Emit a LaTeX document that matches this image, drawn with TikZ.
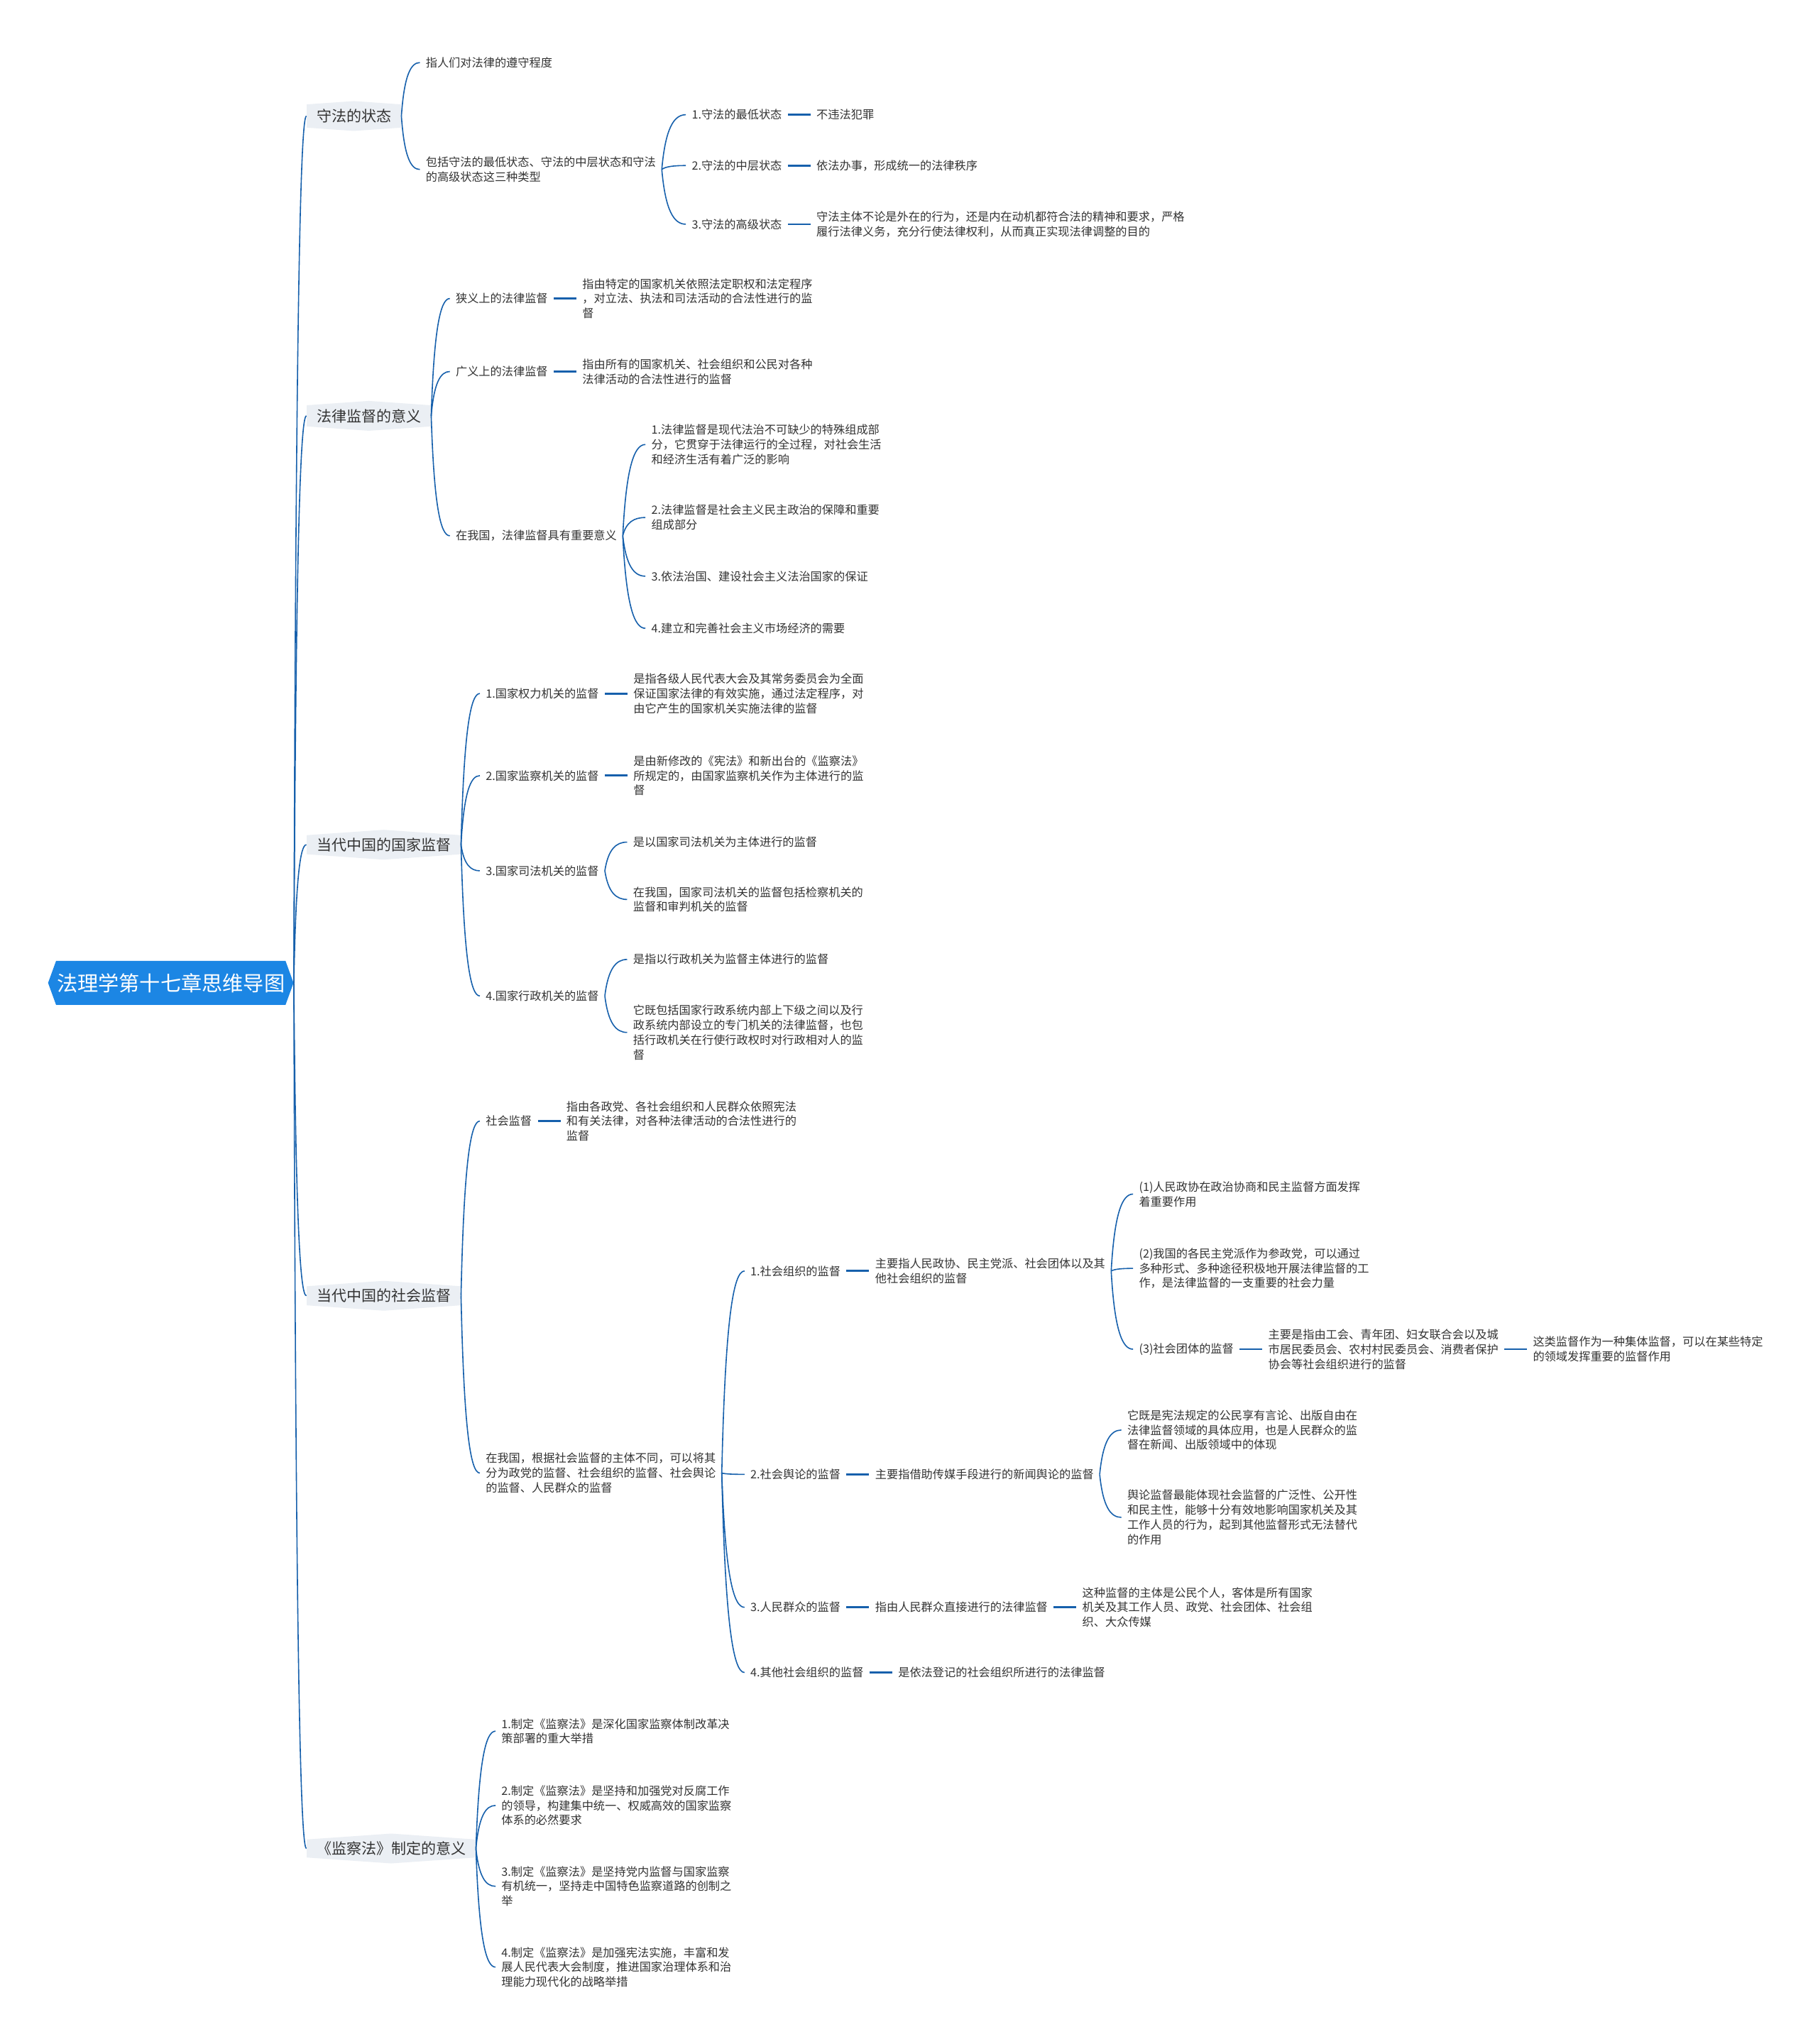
\documentclass[tikz,border=0pt]{standalone}
\usepackage{fontspec}
\setmainfont{Noto Sans CJK SC}
\usetikzlibrary{positioning,calc,shapes.symbols}
\definecolor{lnblue}{RGB}{22,96,172}
\definecolor{rootblue}{RGB}{28,134,228}
\definecolor{topbg}{RGB}{235,239,244}
\definecolor{txtgray}{RGB}{51,51,51}
\tikzset{
  root/.style ={signal, signal to=west and east, signal pointer angle=140,
                fill=rootblue, text=white, inner xsep=0.5pt, inner ysep=0pt,
                minimum height=31pt, font=\fontsize{14.6pt}{17pt}\selectfont},
  topic/.style={signal, signal to=north and south, signal pointer angle=172,
                fill=topbg, text=txtgray, inner xsep=7pt, inner ysep=0pt,
                minimum height=21pt, anchor=west, font=\fontsize{10.5pt}{13pt}\selectfont},
  leaf/.style ={inner xsep=4pt, inner ysep=1pt, align=left, anchor=west, text=txtgray,
                font=\fontsize{8.1pt}{10.4pt}\selectfont},
  br/.style   ={draw=lnblue, line width=0.8pt,
                to path={let \p1=(\tikztostart), \p2=(\tikztotarget) in
                  .. controls (\x1+0.15*\x2-0.15*\x1, 0.25*\y1+0.75*\y2)
                  and (0.5*\x1+0.5*\x2, \y2) .. (\p2)}},
  lf/.style   ={draw=lnblue, line width=1.4pt},
}
\begin{document}
\begin{tikzpicture}[x=0.9183pt, y=-0.9183pt]
\path[use as bounding box, fill=white] (0,0) rectangle (1394,1568);

% root and main topics
\node[root] (rt) at (131,754) {法理学第十七章思维导图};
\node[topic] (st) at (235,89) {守法的状态};
\node[topic] (yy) at (235,319) {法律监督的意义};
\node[topic] (gj) at (235,648) {当代中国的国家监督};
\node[topic] (sh) at (235,994) {当代中国的社会监督};
\node[topic] (jc) at (235,1418) {《监察法》制定的意义};

% 守法的状态
\node[leaf] (st1) at (322,48) {指人们对法律的遵守程度};
\node[leaf] (st2) at (322,130) {包括守法的最低状态、守法的中层状态和守法\\的高级状态这三种类型};
\node[leaf] (lv1) at (526,88) {1.守法的最低状态};
\node[leaf, right=16pt of lv1] (lv1d) {不违法犯罪};
\node[leaf] (lv2) at (526,127) {2.守法的中层状态};
\node[leaf, right=16pt of lv2] (lv2d) {依法办事，形成统一的法律秩序};
\node[leaf] (lv3) at (526,172) {3.守法的高级状态};
\node[leaf, right=16pt of lv3] (lv3d) {守法主体不论是外在的行为，还是内在动机都符合法的精神和要求，严格\\履行法律义务，充分行使法律权利，从而真正实现法律调整的目的};

% 法律监督的意义
\node[leaf] (xy) at (345,229) {狭义上的法律监督};
\node[leaf, right=16pt of xy] (xyd) {指由特定的国家机关依照法定职权和法定程序\\，对立法、执法和司法活动的合法性进行的监\\督};
\node[leaf] (gy) at (345,285) {广义上的法律监督};
\node[leaf, right=16pt of gy] (gyd) {指由所有的国家机关、社会组织和公民对各种\\法律活动的合法性进行的监督};
\node[leaf] (zy) at (345,411) {在我国，法律监督具有重要意义};
\node[leaf] (zy1) at (495,341) {1.法律监督是现代法治不可缺少的特殊组成部\\分，它贯穿于法律运行的全过程，对社会生活\\和经济生活有着广泛的影响};
\node[leaf] (zy2) at (495,397) {2.法律监督是社会主义民主政治的保障和重要\\组成部分};
\node[leaf] (zy3) at (495,442) {3.依法治国、建设社会主义法治国家的保证};
\node[leaf] (zy4) at (495,482) {4.建立和完善社会主义市场经济的需要};

% 当代中国的国家监督
\node[leaf] (ql) at (368,532) {1.国家权力机关的监督};
\node[leaf, right=16pt of ql] (qld) {是指各级人民代表大会及其常务委员会为全面\\保证国家法律的有效实施，通过法定程序，对\\由它产生的国家机关实施法律的监督};
\node[leaf] (jcj) at (368,595) {2.国家监察机关的监督};
\node[leaf, right=16pt of jcj] (jcjd) {是由新修改的《宪法》和新出台的《监察法》\\所规定的，由国家监察机关作为主体进行的监\\督};
\node[leaf] (sf) at (368,668) {3.国家司法机关的监督};
\node[leaf] (sf1) at (481,646) {是以国家司法机关为主体进行的监督};
\node[leaf] (sf2) at (481,690) {在我国，国家司法机关的监督包括检察机关的\\监督和审判机关的监督};
\node[leaf] (xz) at (368,764) {4.国家行政机关的监督};
\node[leaf] (xz1) at (481,736) {是指以行政机关为监督主体进行的监督};
\node[leaf] (xz2) at (481,792) {它既包括国家行政系统内部上下级之间以及行\\政系统内部设立的专门机关的法律监督，也包\\括行政机关在行使行政权时对行政相对人的监\\督};

% 当代中国的社会监督
\node[leaf] (sj) at (368,860) {社会监督};
\node[leaf, right=16pt of sj] (sjd) {指由各政党、各社会组织和人民群众依照宪法\\和有关法律，对各种法律活动的合法性进行的\\监督};
\node[leaf] (fl) at (368,1130) {在我国，根据社会监督的主体不同，可以将其\\分为政党的监督、社会组织的监督、社会舆论\\的监督、人民群众的监督};
\node[leaf] (zz) at (571,975) {1.社会组织的监督};
\node[leaf, right=16pt of zz] (zzd) {主要指人民政协、民主党派、社会团体以及其\\他社会组织的监督};
\node[leaf] (zz1) at (869,916) {(1)人民政协在政治协商和民主监督方面发挥\\着重要作用};
\node[leaf] (zz2) at (869,973) {(2)我国的各民主党派作为参政党，可以通过\\多种形式、多种途径积极地开展法律监督的工\\作，是法律监督的一支重要的社会力量};
\node[leaf] (zz3) at (869,1035) {(3)社会团体的监督};
\node[leaf, right=16pt of zz3] (zz3d) {主要是指由工会、青年团、妇女联合会以及城\\市居民委员会、农村村民委员会、消费者保护\\协会等社会组织进行的监督};
\node[leaf, right=16pt of zz3d] (zz3e) {这类监督作为一种集体监督，可以在某些特定\\的领域发挥重要的监督作用};
\node[leaf] (yl) at (571,1131) {2.社会舆论的监督};
\node[leaf, right=16pt of yl] (yld) {主要指借助传媒手段进行的新闻舆论的监督};
\node[leaf] (yl1) at (860,1097) {它既是宪法规定的公民享有言论、出版自由在\\法律监督领域的具体应用，也是人民群众的监\\督在新闻、出版领域中的体现};
\node[leaf] (yl2) at (860,1164) {舆论监督最能体现社会监督的广泛性、公开性\\和民主性，能够十分有效地影响国家机关及其\\工作人员的行为，起到其他监督形式无法替代\\的作用};
\node[leaf] (qz) at (571,1233) {3.人民群众的监督};
\node[leaf, right=16pt of qz] (qzd) {指由人民群众直接进行的法律监督};
\node[leaf, right=16pt of qzd] (qze) {这种监督的主体是公民个人，客体是所有国家\\机关及其工作人员、政党、社会团体、社会组\\织、大众传媒};
\node[leaf] (qt) at (571,1283) {4.其他社会组织的监督};
\node[leaf, right=16pt of qt] (qtd) {是依法登记的社会组织所进行的法律监督};

% 《监察法》制定的意义
\node[leaf] (jc1) at (380,1328) {1.制定《监察法》是深化国家监察体制改革决\\策部署的重大举措};
\node[leaf] (jc2) at (380,1385) {2.制定《监察法》是坚持和加强党对反腐工作\\的领导，构建集中统一、权威高效的国家监察\\体系的必然要求};
\node[leaf] (jc3) at (380,1447) {3.制定《监察法》是坚持党内监督与国家监察\\有机统一，坚持走中国特色监察道路的创制之\\举};
\node[leaf] (jc4) at (380,1509) {4.制定《监察法》是加强宪法实施，丰富和发\\展人民代表大会制度，推进国家治理体系和治\\理能力现代化的战略举措};

% curved branches
\draw[br] (rt.east) to (st.west); \draw[br] (rt.east) to (yy.west); \draw[br] (rt.east) to (gj.west);
\draw[br] (rt.east) to (sh.west); \draw[br] (rt.east) to (jc.west);
\draw[br] (st.east) to (st1.west); \draw[br] (st.east) to (st2.west);
\draw[br] (st2.east) to (lv1.west); \draw[br] (st2.east) to (lv2.west); \draw[br] (st2.east) to (lv3.west);
\draw[br] (yy.east) to (xy.west); \draw[br] (yy.east) to (gy.west); \draw[br] (yy.east) to (zy.west);
\draw[br] (zy.east) to (zy1.west); \draw[br] (zy.east) to (zy2.west);
\draw[br] (zy.east) to (zy3.west); \draw[br] (zy.east) to (zy4.west);
\draw[br] (gj.east) to (ql.west); \draw[br] (gj.east) to (jcj.west);
\draw[br] (gj.east) to (sf.west); \draw[br] (gj.east) to (xz.west);
\draw[br] (sf.east) to (sf1.west); \draw[br] (sf.east) to (sf2.west);
\draw[br] (xz.east) to (xz1.west); \draw[br] (xz.east) to (xz2.west);
\draw[br] (sh.east) to (sj.west); \draw[br] (sh.east) to (fl.west);
\draw[br] (fl.east) to (zz.west); \draw[br] (fl.east) to (yl.west);
\draw[br] (fl.east) to (qz.west); \draw[br] (fl.east) to (qt.west);
\draw[br] (zzd.east) to (zz1.west); \draw[br] (zzd.east) to (zz2.west); \draw[br] (zzd.east) to (zz3.west);
\draw[br] (yld.east) to (yl1.west); \draw[br] (yld.east) to (yl2.west);
\draw[br] (jc.east) to (jc1.west); \draw[br] (jc.east) to (jc2.west);
\draw[br] (jc.east) to (jc3.west); \draw[br] (jc.east) to (jc4.west);

% short links
\draw[lf] (lv1)--(lv1d); \draw[lf] (lv2)--(lv2d); \draw[lf] (lv3)--(lv3d);
\draw[lf] (xy)--(xyd); \draw[lf] (gy)--(gyd);
\draw[lf] (ql)--(qld); \draw[lf] (jcj)--(jcjd);
\draw[lf] (sj)--(sjd);
\draw[lf] (zz)--(zzd); \draw[lf] (zz3)--(zz3d); \draw[lf] (zz3d)--(zz3e);
\draw[lf] (yl)--(yld);
\draw[lf] (qz)--(qzd); \draw[lf] (qzd)--(qze);
\draw[lf] (qt)--(qtd);
\end{tikzpicture}
\end{document}
